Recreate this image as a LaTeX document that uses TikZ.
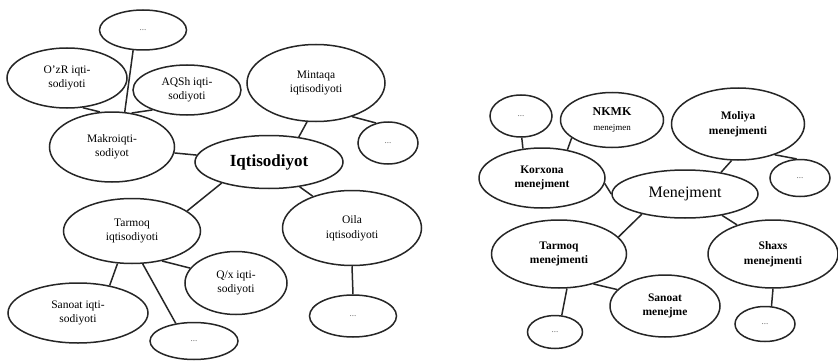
\documentclass[tikz,border=0pt]{standalone}
\usepackage{fontspec}
\setmainfont{Liberation Serif}
\usetikzlibrary{shapes.geometric}
\begin{document}
\begin{tikzpicture}[x=1pt,y=-1pt,
  bub/.style={ellipse,draw=black!85,line width=1.5pt,inner sep=0pt,align=center,font=\fontsize{11.5}{14.5}\selectfont},
  lnk/.style={draw=black!85,line width=1.5pt},
  dotsb/.style={bub,font=\fontsize{9}{10}\selectfont,text=black!60},
  rb/.style={bub,font=\fontsize{11.5}{14.5}\selectfont\bfseries}]
\useasboundingbox[fill=white] (0,0) rectangle (838,361);
% ---------- left diagram ----------
\node[dotsb,minimum width=87pt,minimum height=40pt] (ltop) at (143,30) {...};
\node[bub,minimum width=120pt,minimum height=60pt] (ozr) at (67,78) {O'zR iqti-\\sodiyoti};
\node[bub,minimum width=108pt,minimum height=50pt] (aqsh) at (187,90) {AQSh iqti-\\sodiyoti};
\node[bub,minimum width=138pt,minimum height=77pt] (mint) at (316,83) {Mintaqa\\iqtisodiyoti};
\node[bub,minimum width=125pt,minimum height=70pt] (makro) at (112,147) {Makroiqti-\\sodiyot};
\node[bub,minimum width=148pt,minimum height=53pt,font=\fontsize{17}{20}\selectfont\bfseries] (iqt) at (269,162) {Iqtisodiyot};
\node[dotsb,minimum width=60pt,minimum height=42pt] (lright) at (388,143) {...};
\node[bub,minimum width=137pt,minimum height=65pt] (ltar) at (132,231) {Tarmoq\\iqtisodiyoti};
\node[bub,minimum width=139pt,minimum height=75pt] (oila) at (352,228) {Oila\\iqtisodiyoti};
\node[bub,minimum width=102pt,minimum height=63pt] (qx) at (236,283) {Q/x iqti-\\sodiyoti};
\node[bub,minimum width=140pt,minimum height=60pt] (lsan) at (78,313) {Sanoat iqti-\\sodiyoti};
\node[dotsb,minimum width=88pt,minimum height=37pt] (lbot) at (194,341) {...};
\node[dotsb,minimum width=87pt,minimum height=42pt] (loila) at (353,316) {...};
\draw[lnk] (ltop.-116) -- (makro.70);
\draw[lnk] (ozr.-62) -- (makro.109);
\draw[lnk] (aqsh.-150) -- (makro.60);
\draw[lnk] (makro) -- (iqt);
\draw[lnk] (mint.-103) -- (iqt.40);
\draw[lnk] (mint.-43) -- (lright.121);
\draw[lnk] (iqt.-39) -- (oila.141);
\draw[lnk] (iqt.-156) -- (ltar.20);
\draw[lnk] (ltar.-45) -- (qx.162);
\draw[lnk] (ltar.-114) -- (lsan.41);
\draw[lnk] (ltar.-72) -- (lbot.136);
\draw[lnk] (oila.-90) -- (loila.90);
% ---------- right diagram ----------
\node[dotsb,minimum width=62pt,minimum height=42pt] (rtop) at (521,116) {...};
\node[bub,minimum width=103pt,minimum height=55pt] (nkmk) at (612,120) {\fontsize{12}{14}\selectfont\bfseries NKMK\\\fontsize{9}{11}\selectfont menejmen};
\node[rb,minimum width=133pt,minimum height=72pt] (mol) at (738,124) {Moliya\\menejmenti};
\node[rb,minimum width=126pt,minimum height=60pt] (kor) at (542,178) {Korxona\\menejment};
\node[bub,minimum width=146pt,minimum height=48pt,font=\fontsize{16}{19}\selectfont] (men) at (685,194) {Menejment};
\node[dotsb,minimum width=60pt,minimum height=37pt] (rright) at (800,178) {...};
\node[rb,minimum width=135pt,minimum height=68pt] (rtar) at (559,254) {Tarmoq\\menejmenti};
\node[rb,minimum width=110pt,minimum height=62pt] (rsan) at (665,306) {Sanoat\\menejme};
\node[rb,minimum width=130pt,minimum height=68pt] (shx) at (773,254) {Shaxs\\menejmenti};
\node[dotsb,minimum width=55pt,minimum height=33pt] (rbot) at (555,332) {...};
\node[dotsb,minimum width=60pt,minimum height=35pt] (rshx) at (765,324) {...};
\draw[lnk] (rtop.-88) -- (kor.123);
\draw[lnk] (nkmk.-156) -- (kor.48);
\draw[lnk] (kor.-5) -- (men.180);
\draw[lnk] (mol.-100) -- (men.31);
\draw[lnk] (mol.-40) -- (rright.100);
\draw[lnk] (men.-155) -- (rtar.16);
\draw[lnk] (men.-30) -- (shx.141);
\draw[lnk] (rtar.-77) -- (rbot.68);
\draw[lnk] (rtar.-41) -- (rsan.161);
\draw[lnk] (shx.-90) -- (rshx.70);
\end{tikzpicture}
\end{document}
